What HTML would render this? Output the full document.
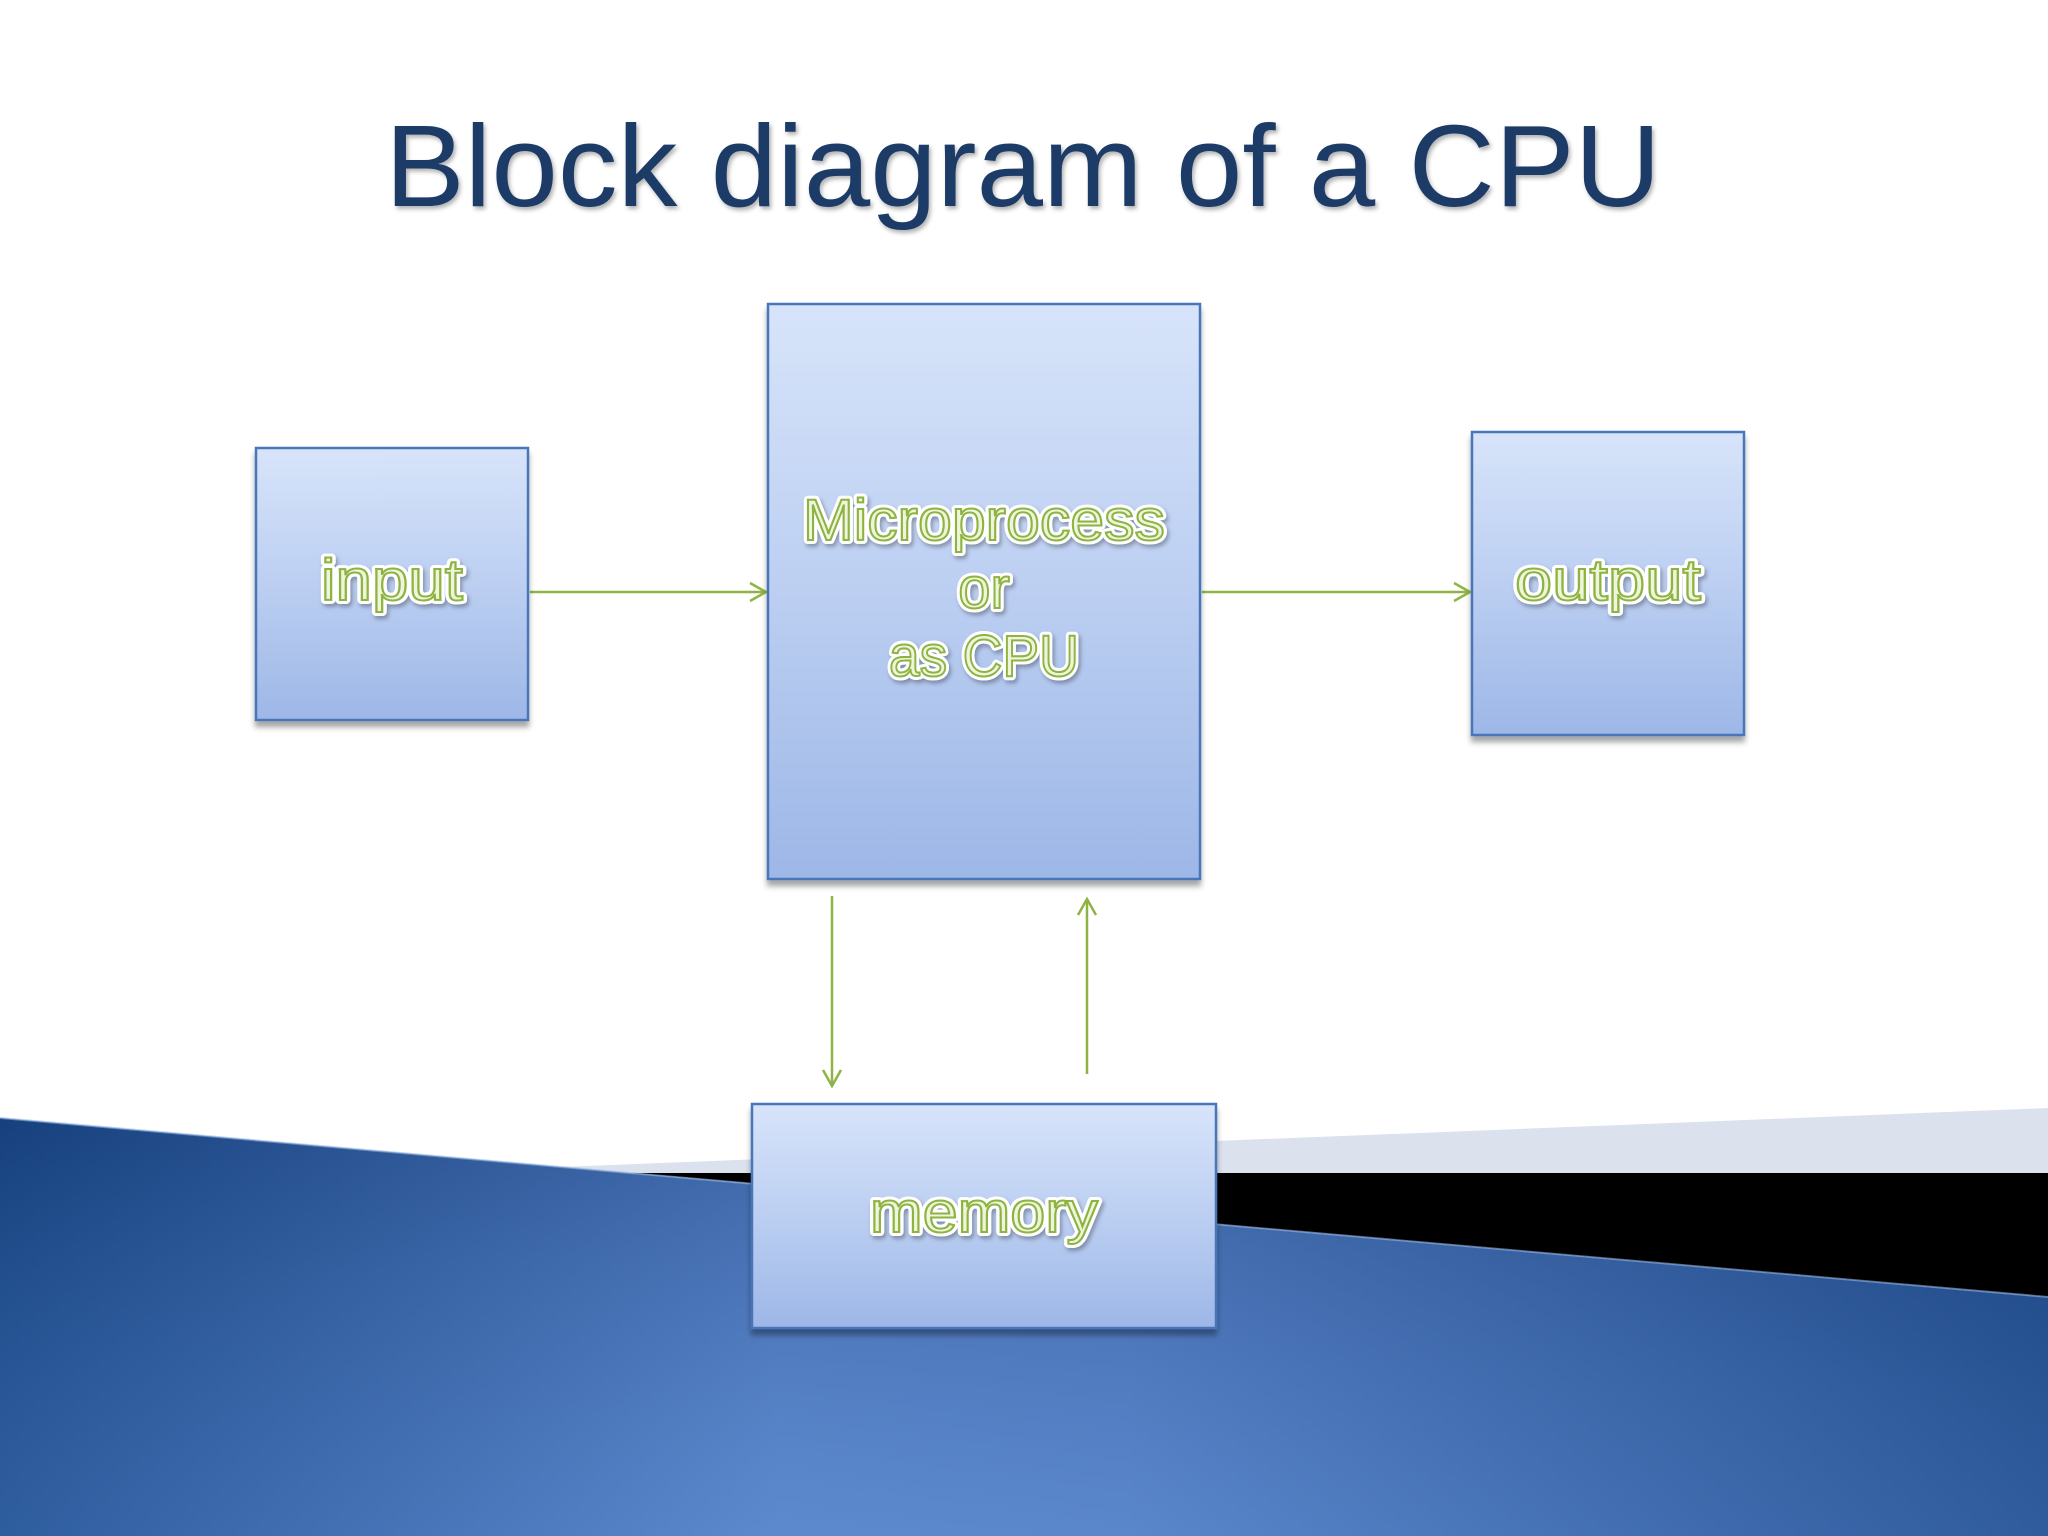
<!DOCTYPE html>
<html><head><meta charset="utf-8"><style>
html,body{margin:0;padding:0;background:#fff;}
svg{display:block}
</style></head><body>
<svg width="2048" height="1536" viewBox="0 0 2048 1536" xmlns="http://www.w3.org/2000/svg">
<defs>
<linearGradient id="bh" x1="0" y1="0" x2="1" y2="0">
<stop offset="0" stop-color="#1b4a8a"/><stop offset="0.38" stop-color="#5884ca"/><stop offset="0.55" stop-color="#5580c6"/><stop offset="1" stop-color="#1c4888"/>
</linearGradient>
<linearGradient id="bv" x1="0" y1="0" x2="0" y2="1">
<stop offset="0" stop-color="#0d2f66" stop-opacity="0.35"/><stop offset="1" stop-color="#6a98dd" stop-opacity="0.25"/>
</linearGradient>
<linearGradient id="box" x1="0" y1="0" x2="0" y2="1">
<stop offset="0" stop-color="#d7e4fa"/><stop offset="0.5" stop-color="#bccff2"/><stop offset="1" stop-color="#9db7e7"/>
</linearGradient>
<filter id="sh" x="-10%" y="-10%" width="120%" height="130%"><feDropShadow dx="0" dy="6" stdDeviation="3" flood-color="#000" flood-opacity="0.35"/></filter>
<filter id="tsh" x="-5%" y="-20%" width="110%" height="150%"><feDropShadow dx="2" dy="3" stdDeviation="2" flood-color="#000" flood-opacity="0.3"/></filter>
</defs>
<rect width="2048" height="1536" fill="#fff"/>
<!-- background band -->
<polygon points="560,1167 2048,1108 2048,1173 632,1173" fill="#dbe2ee"/>
<polygon points="632,1173 2048,1173 2048,1297" fill="#000"/>
<polygon points="0,1118 2048,1297 2048,1536 0,1536" fill="url(#bh)"/>
<polygon points="0,1118 2048,1297 2048,1536 0,1536" fill="url(#bv)"/>
<line x1="0" y1="1118" x2="2048" y2="1297" stroke="#8fb0e0" stroke-width="2" opacity="0.6"/>

<!-- title -->
<text x="1023" y="206" text-anchor="middle" font-family="Liberation Sans, sans-serif" font-size="116" fill="#1d3b66" textLength="1276" lengthAdjust="spacingAndGlyphs" filter="url(#tsh)">Block diagram of a CPU</text>

<!-- connectors -->
<g stroke="#8fb443" stroke-width="2.5" fill="none">
<line x1="530" y1="592" x2="766" y2="592"/><polyline points="750,583 766,592 750,601"/>
<line x1="1202" y1="592" x2="1470" y2="592"/><polyline points="1454,583 1470,592 1454,601"/>
<line x1="832" y1="896" x2="832" y2="1086"/><polyline points="823,1070 832,1086 841,1070"/>
<line x1="1087" y1="1074" x2="1087" y2="899"/><polyline points="1078,915 1087,899 1096,915"/>
</g>

<!-- boxes -->
<g stroke="#4a76b8" stroke-width="2.5" fill="url(#box)" filter="url(#sh)">
<rect x="256" y="448" width="272" height="272"/>
<rect x="768" y="304" width="432" height="575"/>
<rect x="1472" y="432" width="272" height="303"/>
<rect x="752" y="1104" width="464" height="224"/>
</g>

<!-- labels -->
<g font-family="Liberation Sans, sans-serif" font-size="58" text-anchor="middle" filter="url(#tsh)">
<g fill="none" stroke="#fff" stroke-width="8" stroke-linejoin="round">
<text x="392" y="600" textLength="142" lengthAdjust="spacingAndGlyphs">input</text>
<text x="1608" y="600" textLength="186" lengthAdjust="spacingAndGlyphs">output</text>
<text x="984" y="540" textLength="362" lengthAdjust="spacingAndGlyphs">Microprocess</text>
<text x="984" y="608">or</text>
<text x="984" y="676" textLength="190" lengthAdjust="spacingAndGlyphs">as CPU</text>
<text x="984" y="1232" textLength="228" lengthAdjust="spacingAndGlyphs">memory</text>
</g>
<g fill="#eef5dc" stroke="#8db33f" stroke-width="2">
<text x="392" y="600" textLength="142" lengthAdjust="spacingAndGlyphs">input</text>
<text x="1608" y="600" textLength="186" lengthAdjust="spacingAndGlyphs">output</text>
<text x="984" y="540" textLength="362" lengthAdjust="spacingAndGlyphs">Microprocess</text>
<text x="984" y="608">or</text>
<text x="984" y="676" textLength="190" lengthAdjust="spacingAndGlyphs">as CPU</text>
<text x="984" y="1232" textLength="228" lengthAdjust="spacingAndGlyphs">memory</text>
</g>
</g>
</svg>
</body></html>
